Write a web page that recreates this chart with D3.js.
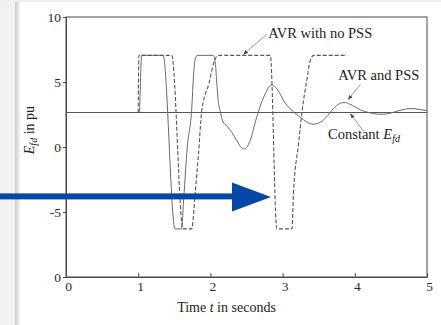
<!DOCTYPE html>
<html>
<head>
<meta charset="utf-8">
<script src="https://cdnjs.cloudflare.com/ajax/libs/d3/7.8.5/d3.min.js"></script>
<style>
  body { margin: 0; background: #fff; }
  svg { display: block; font-family: "Liberation Serif", "Times New Roman", serif; }
</style>
</head>
<body>
<div id="chart"></div>
<script>
var svgWidth = 441;
var svgHeight = 325;
var margin = ({top: 17, right: 14, bottom: 48, left: 66});

// time (s), Efd (pu)
var constantEfd = [[0, 2.65], [5, 2.65]];
var avrNoPss = [[1.0, 2.65], [1.01, 7.05], [1.465, 7.05], [1.62, -6.3], [1.74, -6.3], [1.79, -3.5],
    [1.835, -0.56], [1.88, 2.77], [1.98, 4.9], [2.06, 6.7], [2.11, 7.05], [2.83, 7.05], [2.92, -6.3],
    [3.13, -6.3], [3.15, -3.6], [3.22, 0.2], [3.27, 2.77], [3.34, 5.3], [3.38, 6.6], [3.43, 7.05], [3.89, 7.05]];
var avrPss = [[1.02, 2.65], [1.05, 7.05], [1.345, 7.05], [1.51, -6.3], [1.60, -6.3], [1.63, -4.0],
    [1.68, 0.0], [1.74, 2.8], [1.77, 5.8], [1.80, 6.95], [1.83, 7.05], [2.04, 7.05], [2.07, 6.35],
    [2.09, 4.8], [2.11, 3.5], [2.14, 2.65], [2.17, 2.0], [2.23, 1.6], [2.30, 1.1], [2.37, 0.46],
    [2.42, 0.0], [2.46, -0.15], [2.50, -0.05], [2.55, 0.5], [2.64, 2.26], [2.70, 3.3], [2.76, 4.1],
    [2.81, 4.6], [2.85, 4.75], [2.90, 4.6], [2.97, 4.05], [3.01, 3.6], [3.08, 3.1], [3.15, 2.7],
    [3.22, 2.4], [3.29, 2.1], [3.36, 1.85], [3.42, 1.75], [3.48, 1.8], [3.57, 2.1], [3.63, 2.45],
    [3.68, 2.8], [3.75, 3.2], [3.82, 3.4], [3.87, 3.42], [3.93, 3.3], [4.00, 3.1], [4.08, 2.85],
    [4.16, 2.7], [4.25, 2.58], [4.35, 2.52], [4.45, 2.55], [4.55, 2.7], [4.65, 2.85], [4.75, 2.95],
    [4.82, 2.95], [4.90, 2.88], [5.0, 2.8]];
var xTicks = [0, 1, 2, 3, 4, 5];
var yTicks = [10, 5, 0, -5, -10];
var yTickLabels = ["10", "5", "0", "-5", "0"];
// label, text anchor [t, v], leader from [t, v] to [t, v]
var notes = [
    {text: "AVR with no PSS", at: [2.80, 8.36], from: [2.78, 8.67], to: [2.46, 7.13]},
    {text: "AVR and PSS", at: [3.77, 5.13], from: [4.08, 4.82], to: [3.91, 3.67]},
    {text: "Constant ", sub: "fd", at: [3.63, 0.59], from: [4.12, 1.23], to: [3.94, 2.55]}
];

var svg = d3.select("#chart").append("svg")
    .attr("width", svgWidth)
    .attr("height", svgHeight);

// page chrome from the screenshot: grey side panel, shadow and arrow
var grad = svg.append("defs").append("linearGradient").attr("id", "shade");
grad.append("stop").attr("offset", "0%").attr("stop-color", "#c9c9c9");
grad.append("stop").attr("offset", "100%").attr("stop-color", "#ffffff");
svg.append("rect").attr("x", 0).attr("y", 0).attr("width", 15).attr("height", svgHeight).attr("fill", "#f1f1f1");
svg.append("rect").attr("x", 15).attr("y", 0).attr("width", 6).attr("height", svgHeight).attr("fill", "url(#shade)");
svg.append("rect").attr("x", 0).attr("y", 0).attr("width", svgWidth).attr("height", 2).attr("fill", "#eeeeee");

var mk = svg.select("defs").append("marker")
    .attr("id", "tip")
    .attr("viewBox", "0 0 10 10")
    .attr("refX", 9).attr("refY", 5)
    .attr("markerWidth", 6).attr("markerHeight", 6)
    .attr("orient", "auto");
mk.append("path").attr("d", "M0,1 L10,5 L0,9 Z").attr("fill", "#444");

var w = svgWidth - margin.left - margin.right;
var h = svgHeight - margin.top - margin.bottom;
var x = d3.scaleLinear().domain([0, 5]).range([0, w]);
var y = d3.scaleLinear().domain([-10, 10]).range([h, 0]);

var g = svg.append("g")
    .attr("transform", "translate(" + margin.left + "," + margin.top + ")");

g.append("rect")
    .attr("width", w).attr("height", h)
    .attr("fill", "none").attr("stroke", "#4a4a4a").attr("stroke-width", 1);

var xAxis = g.append("g")
    .attr("class", "axis")
    .attr("transform", "translate(0," + h + ")")
    .call(d3.axisBottom(x).tickValues(xTicks).tickSizeInner(-4).tickSizeOuter(0).tickPadding(4)
        .tickFormat(d3.format("d")));
var yAxis = g.append("g")
    .attr("class", "axis")
    .call(d3.axisLeft(y).tickValues(yTicks).tickSizeInner(3).tickSizeOuter(0).tickPadding(2)
        .tickFormat((d, i) => yTickLabels[i]));
svg.selectAll(".axis").attr("font-family", "Liberation Serif, serif");
svg.selectAll(".axis .domain").attr("stroke", "#4a4a4a");
svg.selectAll(".axis line").attr("stroke", "#4a4a4a");
svg.selectAll(".axis text")
    .attr("font-family", "Liberation Serif, serif")
    .attr("font-size", 13.5)
    .attr("fill", "#2a2a2a");
xAxis.selectAll("text").attr("dx", 2);
yAxis.selectAll("text").attr("dy", "0.36em");

var line = d3.line()
    .x(d => x(d[0]))
    .y(d => y(d[1]))
    .curve(d3.curveMonotoneX);

g.append("path").datum(constantEfd)
    .attr("d", line).attr("fill", "none")
    .attr("stroke", "#555").attr("stroke-width", 1.1);
g.append("path").datum(avrPss)
    .attr("d", line).attr("fill", "none")
    .attr("stroke", "#6a6a6a").attr("stroke-width", 1);
g.append("path").datum(avrNoPss)
    .attr("d", line).attr("fill", "none")
    .attr("stroke", "#555").attr("stroke-width", 1.1)
    .attr("stroke-dasharray", "4,2");

// annotations
var ann = g.selectAll(".note").data(notes).enter().append("g").attr("class", "note");
ann.append("line")
    .attr("x1", d => x(d.from[0])).attr("y1", d => y(d.from[1]))
    .attr("x2", d => x(d.to[0])).attr("y2", d => y(d.to[1]))
    .attr("stroke", "#777").attr("stroke-width", 0.8)
    .attr("marker-end", "url(#tip)");
var lbl = ann.append("text")
    .attr("x", d => x(d.at[0])).attr("y", d => y(d.at[1]))
    .attr("font-size", 14.5).attr("fill", "#222")
    .text(d => d.text);
lbl.filter(d => d.sub).append("tspan").attr("font-style", "italic").text("E");
lbl.filter(d => d.sub).append("tspan").attr("font-style", "italic")
    .attr("font-size", 10).attr("dy", 3).text(d => d.sub);

// axis titles
var xt = svg.append("text")
    .attr("x", margin.left + x(2.5) - 20).attr("y", 312)
    .attr("text-anchor", "middle")
    .attr("font-size", 14).attr("fill", "#222");
xt.append("tspan").text("Time ");
xt.append("tspan").attr("font-style", "italic").text("t");
xt.append("tspan").text(" in seconds");

var yt = svg.append("text")
    .attr("transform", "translate(34," + (margin.top + y(1.3)) + ") rotate(-90)")
    .attr("text-anchor", "middle")
    .attr("font-size", 14).attr("fill", "#222");
yt.append("tspan").attr("font-style", "italic").text("E");
yt.append("tspan").attr("font-style", "italic").attr("font-size", 10).attr("dy", 3).text("fd");
yt.append("tspan").attr("dy", -3).text(" in pu");

// blue arrow overlay
var arrowY = margin.top + y(-3.8);
svg.append("rect")
    .attr("x", 0).attr("y", arrowY - 3)
    .attr("width", 236).attr("height", 6)
    .attr("fill", "#0747a6");
svg.append("path")
    .attr("d", "M232," + (arrowY - 14) + " L271," + (arrowY + 0.5) + " L232," + (arrowY + 15) + " Z")
    .attr("fill", "#0747a6");
</script>
</body>
</html>
